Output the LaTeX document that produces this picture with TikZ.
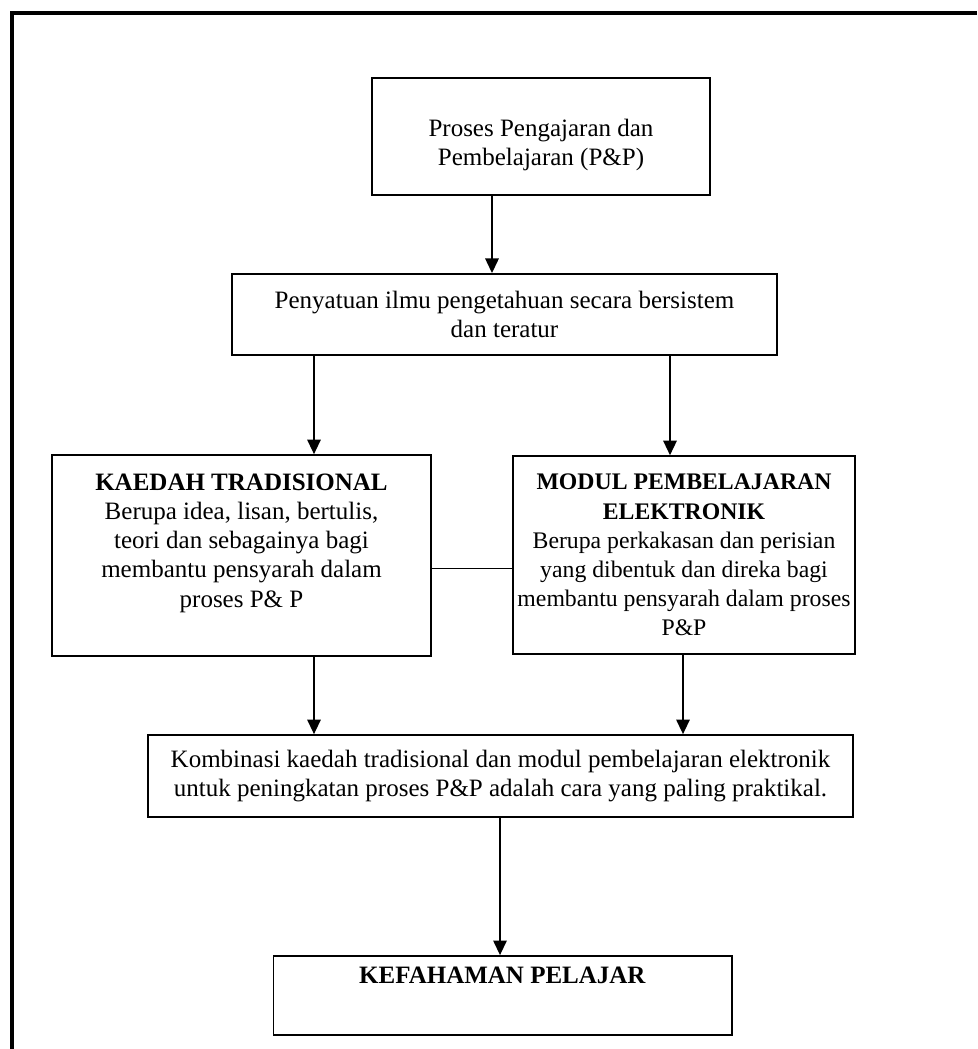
\documentclass[tikz,border=0pt]{standalone}
\usepackage{fontspec}
\setmainfont{Liberation Serif}
\usetikzlibrary{arrows.meta, positioning}

\begin{document}
\begin{tikzpicture}[x=0.48pt, y=-0.48pt,
  box/.style={rectangle, draw, line width=0.8pt, align=flush center, inner xsep=2pt,
    inner ysep=0pt, font=\fontsize{12}{14}\selectfont},
  arr/.style={-{Triangle[length=7pt,width=6.5pt]}, line width=0.7pt}]
\useasboundingbox (0,0) rectangle (977,1049);
% outer frame
\draw[line width=2pt] (12,1049) -- (12,13) -- (977,13);
% boxes
\node (proses) [box, minimum width=162pt, minimum height=56pt, text width=150pt,
  text height=8pt, text depth=8pt] at (541,136.5)
  {Proses Pengajaran dan\\Pembelajaran (P\&P)};
\node (penyatuan) [box, minimum width=261.6pt, minimum height=39pt] at (504.5,314.5)
  {Penyatuan ilmu pengetahuan secara bersistem\\dan teratur};
\node (kaedah) [box, minimum width=182pt, minimum height=96.5pt, text width=175pt,
  text height=8.5pt, text depth=71pt] at (241.5,555.5)
  {\textbf{KAEDAH TRADISIONAL}\\Berupa idea, lisan, bertulis,\\teori dan sebagainya bagi\\membantu pensyarah dalam\\proses P\& P};
\node (modul) [box, minimum width=164pt, minimum height=95pt,
  font=\fontsize{11.4}{14}\selectfont] at (684,555)
  {\textbf{MODUL PEMBELAJARAN}\\\textbf{ELEKTRONIK}\\Berupa perkakasan dan perisian\\yang dibentuk dan direka bagi\\membantu pensyarah dalam proses\\P\&P};
\node (kombinasi) [box, minimum width=338.4pt, minimum height=39.4pt] at (500.5,776)
  {Kombinasi kaedah tradisional dan modul pembelajaran elektronik\\untuk peningkatan proses P\&P adalah cara yang paling praktikal.};
\node (kefahaman) [box, minimum width=220pt, minimum height=38pt,
  text height=8pt, text depth=19.6pt] at (502.5,995.5)
  {\textbf{KEFAHAMAN PELAJAR}};
% arrow positions
\coordinate (xa) at (492,0);
\coordinate (xl) at (314,0);
\coordinate (xr) at (670,0);
\coordinate (xm) at (683,0);
\coordinate (xb) at (500,0);
\coordinate (mid) at (472,568);
% connectors
\draw[arr] (proses.south -| xa) -- (penyatuan.north -| xa);
\draw[arr] (penyatuan.south -| xl) -- (kaedah.north -| xl);
\draw[arr] (penyatuan.south -| xr) -- (modul.north -| xr);
\draw (kaedah.east |- mid) -- (modul.west |- mid);
\draw[arr] (kaedah.south -| xl) -- (kombinasi.north -| xl);
\draw[arr] (modul.south -| xm) -- (kombinasi.north -| xm);
\draw[arr] (kombinasi.south -| xb) -- (kefahaman.north -| xb);
\end{tikzpicture}
\end{document}
